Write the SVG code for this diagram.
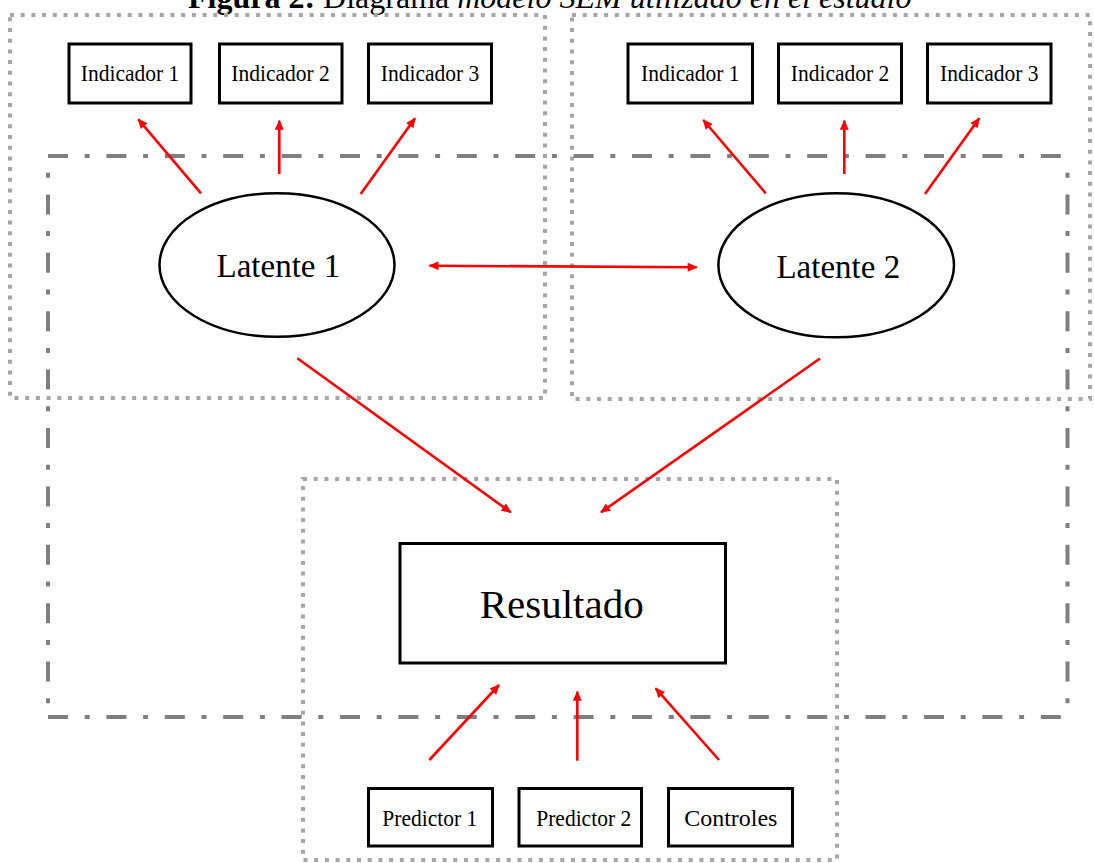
<svg xmlns="http://www.w3.org/2000/svg" width="1094" height="863" viewBox="0 0 1094 863">
  <style>
    .dot { fill: none; stroke: #a6a6a6; stroke-width: 4; stroke-dasharray: 4 6.7; }
    .dd { fill: none; stroke: #7f7f7f; stroke-width: 4; stroke-dasharray: 20 16.7 5 16.7; }
    .box { fill: #ffffff; stroke: #000000; stroke-width: 3; }
    .ell { fill: #ffffff; stroke: #000000; stroke-width: 2.5; }
    .t { font-family: "Liberation Serif", "Times New Roman", serif; fill: #000000; text-anchor: middle; }
    .small { font-size: 21.5px; }
    .arr { stroke: #ff0000; stroke-width: 2.6; fill: none; marker-end: url(#ah); }
  </style>
  <defs>
    <marker id="ah" viewBox="0 0 10 10" refX="9" refY="5" markerWidth="11" markerHeight="10" markerUnits="userSpaceOnUse" orient="auto-start-reverse">
      <path d="M0,0.5 L10,5 L0,9.5 z" fill="#ff0000"/>
    </marker>
  </defs>
  <rect width="1094" height="863" fill="#ffffff"/>

  <!-- title (cut off at top, as in the reference) -->
  <text x="188" y="8" font-family="Liberation Serif, Times New Roman, serif" font-size="32" fill="#000000"><tspan font-weight="bold">Figura 2:</tspan> Diagrama <tspan font-style="italic">modelo SEM utilizado en el estudio</tspan></text>

  <!-- grouping frames -->
  <g id="frames">
    <rect class="dot" x="10" y="15" width="535" height="383"/>
    <rect class="dot" x="572" y="15" width="518" height="384"/>
    <rect class="dot" x="303" y="479" width="534" height="381"/>
    <line class="dd" x1="48" y1="156" x2="1069" y2="156"/>
    <line class="dd" x1="48" y1="717" x2="1069" y2="717"/>
    <line class="dd" x1="48" y1="156" x2="48" y2="717" stroke-dashoffset="20"/>
    <line class="dd" x1="1067.5" y1="156" x2="1067.5" y2="717" stroke-dashoffset="20"/>
  </g>

  <!-- nodes -->
  <g id="ind1a"><rect class="box" x="69" y="44" width="122" height="59"/><text class="t small" transform="translate(130 80.5) scale(1 1.1)">Indicador 1</text></g>
  <g id="ind2a"><rect class="box" x="219.5" y="44" width="122.5" height="59"/><text class="t small" transform="translate(280.5 80.5) scale(1 1.1)">Indicador 2</text></g>
  <g id="ind3a"><rect class="box" x="368.5" y="44" width="123" height="59"/><text class="t small" transform="translate(430 80.5) scale(1 1.1)">Indicador 3</text></g>

  <g id="ind1b"><rect class="box" x="628" y="44" width="124.5" height="59"/><text class="t small" transform="translate(690.3 80.5) scale(1 1.1)">Indicador 1</text></g>
  <g id="ind2b"><rect class="box" x="778.5" y="44" width="123" height="59"/><text class="t small" transform="translate(840 80.5) scale(1 1.1)">Indicador 2</text></g>
  <g id="ind3b"><rect class="box" x="927.5" y="44" width="123.5" height="59"/><text class="t small" transform="translate(989.3 80.5) scale(1 1.1)">Indicador 3</text></g>

  <g id="latente1"><ellipse class="ell" cx="277" cy="265" rx="117.5" ry="71.8"/><text class="t" x="278.4" y="277.3" font-size="33">Latente 1</text></g>
  <g id="latente2"><ellipse class="ell" cx="836.2" cy="265.3" rx="117.8" ry="72"/><text class="t" x="838.3" y="277.5" font-size="33">Latente 2</text></g>

  <g id="resultado"><rect class="box" x="400" y="543.5" width="325.5" height="119.5"/><text class="t" x="561.7" y="618.3" font-size="41">Resultado</text></g>

  <g id="predictor1"><rect class="box" x="368.5" y="788.5" width="124" height="57.5"/><text class="t small" transform="translate(429.8 826) scale(1 1.1)">Predictor 1</text></g>
  <g id="predictor2"><rect class="box" x="519" y="788.5" width="122.5" height="57.5"/><text class="t small" transform="translate(583.7 826) scale(1 1.1)">Predictor 2</text></g>
  <g id="controles"><rect class="box" x="668.5" y="788.5" width="124" height="57.5"/><text class="t" x="730.8" y="826" font-size="24">Controles</text></g>

  <!-- connectors -->
  <g id="connectors">
    <line class="arr" x1="201" y1="193.3" x2="138.3" y2="119.3"/>
    <line class="arr" x1="279.3" y1="174" x2="279.3" y2="120.7"/>
    <line class="arr" x1="360.7" y1="194" x2="415" y2="118.3"/>
    <line class="arr" x1="765.7" y1="193.3" x2="703.3" y2="120"/>
    <line class="arr" x1="844.3" y1="174" x2="844.3" y2="120.7"/>
    <line class="arr" x1="925" y1="194" x2="979.3" y2="118.3"/>
    <line class="arr" x1="429.5" y1="265.7" x2="696.7" y2="267.3" marker-start="url(#ah)"/>
    <line class="arr" x1="297.3" y1="358.3" x2="510.7" y2="512.3"/>
    <line class="arr" x1="820" y1="358.5" x2="601" y2="512.3"/>
    <line class="arr" x1="429.3" y1="760" x2="499" y2="685"/>
    <line class="arr" x1="577.3" y1="760.7" x2="577.3" y2="691.7"/>
    <line class="arr" x1="719" y1="760" x2="655.7" y2="688.3"/>
  </g>
</svg>
